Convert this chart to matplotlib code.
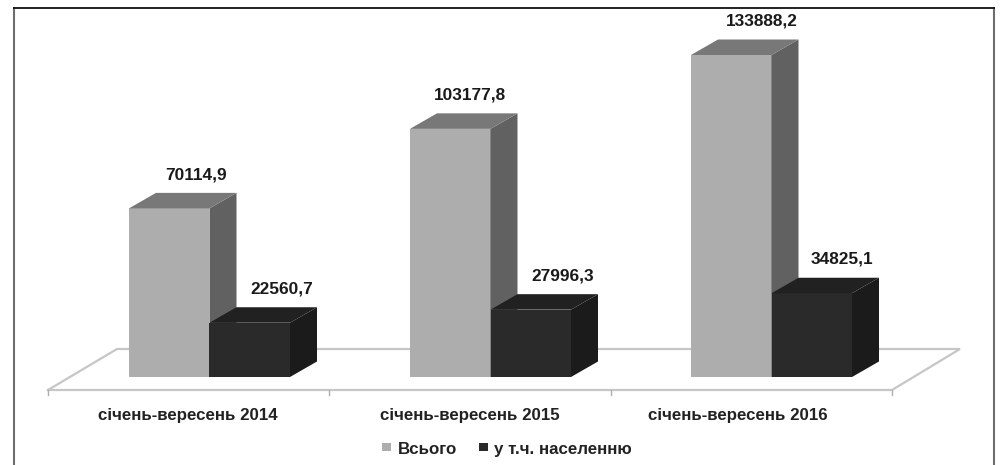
# -*- coding: utf-8 -*-
import matplotlib
matplotlib.use('Agg')
import matplotlib.pyplot as plt
from matplotlib.patches import Polygon, Rectangle

plt.rcParams['font.family'] = ['Liberation Sans', 'DejaVu Sans']

categories = ['січень-вересень 2014', 'січень-вересень 2015', 'січень-вересень 2016']
total = [70114.9, 103177.8, 133888.2]
population = [22560.7, 27996.3, 34825.1]
series_names = ['Всього', 'у т.ч. населенню']

W, H = 1002, 465
px_per_cat = 281.0
px_per_val = 0.002405
x0_px, y0_px = 209.5, 377.0

fig = plt.figure(figsize=(W / 100, H / 100), dpi=100)
ax = fig.add_axes([0, 0, 1, 1])
ax.set_xlim(-x0_px / px_per_cat, (W - x0_px) / px_per_cat)
ax.set_ylim(-(H - y0_px) / px_per_val, y0_px / px_per_val)
ax.axis('off')

bar_w = 80.5 / px_per_cat
depth_x = 27.0 / px_per_cat
depth_y = 15.5 / px_per_val


def fx(px):
    return px / W


def fy(py):
    return 1 - py / H


def bar3d(left, value, front, side, top, z):
    right = left + bar_w
    ax.add_patch(Rectangle((left, 0), bar_w, value, fc=front, ec='none', zorder=z))
    ax.add_patch(Polygon([(right, 0), (right + depth_x, depth_y),
                          (right + depth_x, value + depth_y), (right, value)],
                         fc=side, ec='none', zorder=z))
    ax.add_patch(Polygon([(left, value), (left + depth_x, value + depth_y),
                          (right + depth_x, value + depth_y), (right, value)],
                         fc=top, ec='none', zorder=z))


# floor of the 3d chart
floor_c = '#c6c6c6'
floor_front = -13.0 / px_per_val
floor_back = 28.0 / px_per_val
x_l = (48 - x0_px) / px_per_cat
x_r = (892 - x0_px) / px_per_cat
x_lb = (117 - x0_px) / px_per_cat
x_rb = (960 - x0_px) / px_per_cat
ax.plot([x_l, x_lb, x_rb, x_r, x_l], [floor_front, floor_back, floor_back, floor_front, floor_front],
        color=floor_c, lw=1.6, solid_joinstyle='miter', zorder=1)
for i in range(len(categories) + 1):
    xt = x_l + i * (x_r - x_l) / len(categories)
    ax.plot([xt, xt], [floor_front, floor_front - 5.0 / px_per_val], color='#b0b0b0', lw=1.0, zorder=1)

for i in range(len(categories)):
    bar3d(i - bar_w, total[i], '#adadad', '#616161', '#787878', 2 + i)
    bar3d(i, population[i], '#2a2a2a', '#1b1b1b', '#212121', 2 + i)

# value labels sit above the bars, shifted a bit to the right
total_shift = [-13.5, -21, -10]
pop_shift = [72, 72, 70.5]
for i in range(len(categories)):
    ax.annotate(f'{total[i]:.1f}'.replace('.', ','), (i, total[i]), xytext=(total_shift[i] * 0.72, 33.5 * 0.72),
                textcoords='offset points', ha='center', va='center', fontsize=12.4, fontweight='bold',
                color='#1a1a1a', zorder=10)
    ax.annotate(f'{population[i]:.1f}'.replace('.', ','), (i, population[i]), xytext=(pop_shift[i] * 0.72, 34 * 0.72),
                textcoords='offset points', ha='center', va='center', fontsize=12.4, fontweight='bold',
                color='#1a1a1a', zorder=10)

cat_px = [188, 470, 738]
for name, px in zip(categories, cat_px):
    fig.text(fx(px), fy(415), name, ha='center', va='center', fontsize=12.2, fontweight='bold', color='#222222')

# legend
for px, col, name, tx in zip([382, 479], ['#adadad', '#2a2a2a'], series_names, [398, 494]):
    fig.add_artist(Rectangle((fx(px), fy(451)), 9 / W, 8 / H, fc=col, ec='none', transform=fig.transFigure))
    fig.text(fx(tx), fy(449), name, ha='left', va='center', fontsize=12.2, fontweight='bold', color='#222222')

# outer frame, open at the bottom
fig.add_artist(plt.Line2D([fx(14), fx(14)], [0, fy(8)], color='#6e6e6e', lw=1.5))
fig.add_artist(plt.Line2D([fx(994), fx(994)], [0, fy(8)], color='#6e6e6e', lw=1.5))
fig.add_artist(plt.Line2D([fx(14), fx(994)], [fy(8), fy(8)], color='#111111', lw=1.3))

fig.savefig('out.png', dpi=100)
plt.close()
